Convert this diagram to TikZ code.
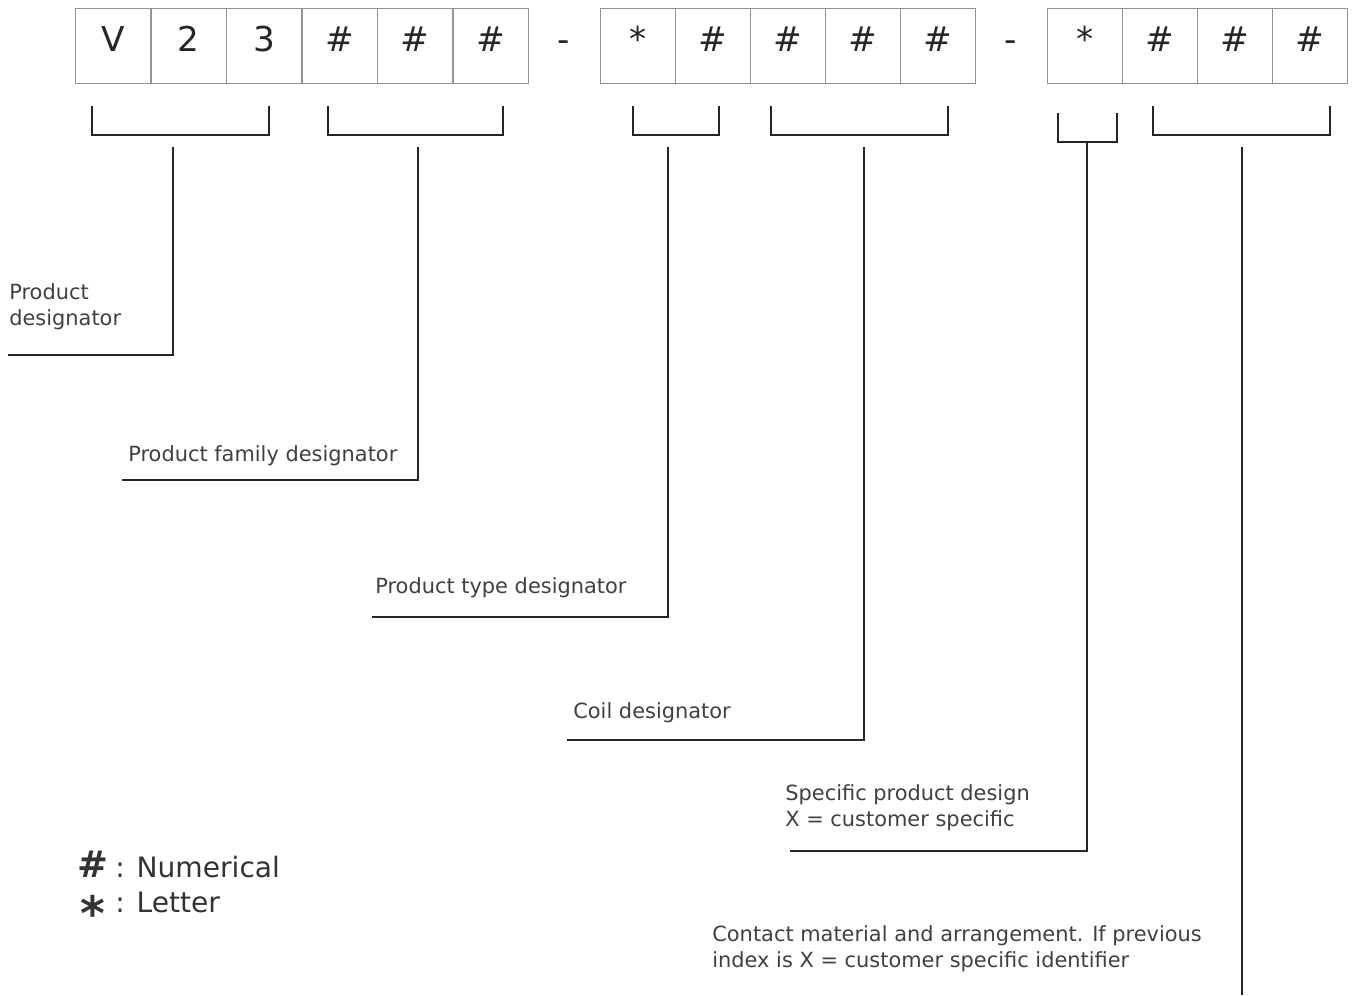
\documentclass[tikz,border=0pt]{standalone}
\usepackage{fontspec}
\setmainfont{DejaVu Sans}
\usetikzlibrary{positioning}

\begin{document}
\begin{tikzpicture}[
    x=0.02cm, y=-0.02cm,
    char/.style={
        font=\fontsize{19.5}{22}\selectfont,
        text=black!85,
        inner sep=0pt,
        text height=0.86cm,
        text depth=0.64cm
    },
    cell/.style={char, draw=gray!85, line width=0.6pt, anchor=north west, minimum width=1.5cm},
    hyph/.style={char, anchor=north},
    brk/.style={draw=black!85, line width=1.4pt},
    lbl/.style={anchor=base west, inner sep=0pt, align=left, font=\fontsize{11.9}{14.7}\selectfont, text=black!75},
    key/.style={anchor=base west, inner sep=0pt, font=\fontsize{16}{18}\selectfont, text=black!80}
]

    \useasboundingbox (0,0) rectangle (1352,995);

    % --- CODE BOXES ---
    \foreach \ch [count=\i] in {V,2,3,\#,\#,\#}
        \node[cell, minimum width=1.51cm] (a\i) at ({75+75.5*(\i-1)},8) {\ch};
    \node[hyph] (dash1) at (564,8) {-};
    \foreach \ch [count=\i] in {*,\#,\#,\#,\#}
        \node[cell] (b\i) at ({600+75*(\i-1)},8) {\ch};
    \node[hyph] (dash2) at (1011,8) {-};
    \foreach \ch [count=\i] in {*,\#,\#,\#}
        \node[cell] (c\i) at ({1047+75*(\i-1)},8) {\ch};

    % --- BRACKETS ---
    \foreach \l/\r in {92/269, 328/503, 633/719, 771/948, 1153/1330}
        \draw[brk] (\l,106) |- (\r,135) -- (\r,106);
    \draw[brk] (1058,113) |- (1117,142) -- (1117,113);

    % --- LABELS ---
    % (base of a two-line label is its last line)
    \node[lbl] (prod) at (9,325) {Product\\designator};
    \node[lbl] (family) at (128,461) {Product family designator};
    \node[lbl] (type) at (375,593) {Product type designator};
    \node[lbl] (coil) at (573,718) {Coil designator};
    \node[lbl] (spec) at (785,826) {Specific product design\\X = customer specific};
    \node[lbl] (contact) at (712,967) {Contact material and arrangement. If previous\\index is X = customer specific identifier};

    % --- CONNECTIONS ---
    \coordinate (prodTop) at (173,147);
    \coordinate (prodEnd) at (8,355);
    \coordinate (familyTop) at (418,147);
    \coordinate (familyEnd) at (122,480);
    \coordinate (typeTop) at (668,147);
    \coordinate (typeEnd) at (372,617);
    \coordinate (coilTop) at (864,147);
    \coordinate (coilEnd) at (567,740);
    \coordinate (specTop) at (1087,142);
    \coordinate (specEnd) at (790,851);
    \coordinate (contactTop) at (1242,147);
    \coordinate (contactEnd) at (1242,995);

    \draw[brk] (prodTop) |- (prodEnd);
    \draw[brk] (familyTop) |- (familyEnd);
    \draw[brk] (typeTop) |- (typeEnd);
    \draw[brk] (coilTop) |- (coilEnd);
    \draw[brk] (specTop) |- (specEnd);
    \draw[brk] (contactTop) -- (contactEnd);

    % --- LEGEND ---
    \node[key] (numKey) at (80,877) {\makebox[0.52cm][c]{\fontsize{21}{21}\selectfont\bfseries\#} : Numerical};
    \node[key] (letKey) at (80,912) {\makebox[0.52cm][c]{\raisebox{-10.8pt}{\fontsize{27}{27}\selectfont\bfseries *}} : Letter};

\end{tikzpicture}
\end{document}
